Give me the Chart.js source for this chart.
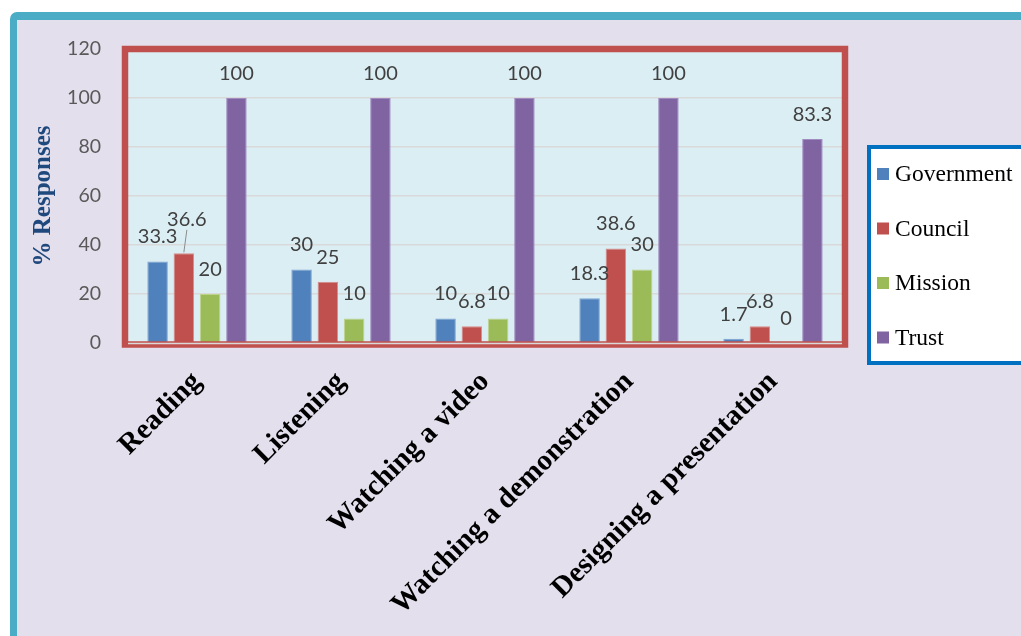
<!DOCTYPE html>
<html>
<head>
<meta charset="utf-8">
<script src="https://cdn.jsdelivr.net/npm/chart.js@4/dist/chart.umd.min.js"></script>
<style>
  html, body { margin: 0; padding: 0; background: #ffffff; }
  #wrap { width: 1021px; height: 636px; position: relative; }
</style>
</head>
<body>
<div id="wrap"><canvas id="c" width="1021" height="636"></canvas></div>
<script>
// ---- data ----
const categories = ["Reading", "Listening", "Watching a video", "Watching a demonstration", "Designing a presentation"];
const seriesNames = ["Government", "Council", "Mission", "Trust"];
const government = [33.3, 30, 10, 18.3, 1.7];
const council = [36.6, 25, 6.8, 38.6, 6.8];
const mission = [20, 10, 10, 30, 0];
const trust = [100, 100, 100, 100, 83.3];
const yTicks = [0, 20, 40, 60, 80, 100, 120];
const yTitle = "% Responses";

// ---- styles ----
const colors = ["#4F81BD", "#C0504D", "#9BBB59", "#8064A2"];
const edgeColors = ["#7FA3D3", "#D88A88", "#BDD48F", "#A08CC0"];
const seriesValues = [government, council, mission, trust];

// label nudges (display adjustments only)
const labelNudges = { "1-0": { dx: 3, dy: -9, leader: true } };

const frame = {
  id: 'frame',
  beforeDraw(chart) {
    const { ctx, chartArea: a } = chart;
    ctx.save();
    ctx.fillStyle = '#ffffff';
    ctx.fillRect(0, 0, chart.width, chart.height);
    // teal outer border
    ctx.fillStyle = '#4BACC6';
    ctx.beginPath();
    ctx.roundRect(10, 12, chart.width, chart.height, [7, 0, 0, 0]);
    ctx.fill();
    ctx.fillStyle = '#E4DFEC';
    ctx.fillRect(17, 20, chart.width, chart.height);
    // plot area fill
    ctx.fillStyle = '#DBEEF3';
    ctx.fillRect(a.left, a.top, a.right - a.left, a.bottom - a.top);
    ctx.restore();
  },
  afterDatasetsDraw(chart) {
    const { ctx, chartArea: a } = chart;
    ctx.save();
    // red plot border
    ctx.strokeStyle = '#C0504D';
    ctx.lineWidth = 6.5;
    ctx.strokeRect(a.left, a.top, a.right - a.left, (a.bottom + 1.5) - a.top);
    ctx.strokeStyle = '#D9D9D9';
    ctx.lineWidth = 1.5;
    ctx.beginPath();
    ctx.moveTo(a.left + 3, a.bottom + 0.5);
    ctx.lineTo(a.right - 3, a.bottom + 0.5);
    ctx.stroke();

    // data labels
    ctx.font = '20px Lato';
    ctx.fillStyle = '#404040';
    ctx.textAlign = 'center';
    ctx.textBaseline = 'middle';
    chart.data.datasets.forEach((ds, di) => {
      const meta = chart.getDatasetMeta(di);
      meta.data.forEach((el, i) => {
        const v = ds.data[i];
        const n = labelNudges[di + '-' + i] || { dx: 0, dy: 0 };
        const x = el.x + n.dx;
        const y = el.y - 24.5 + n.dy;
        ctx.fillText(String(v), x, y);
        if (n.leader) {
          ctx.strokeStyle = '#8c8c8c';
          ctx.lineWidth = 1;
          ctx.beginPath();
          ctx.moveTo(x, y + 10);
          ctx.lineTo(el.x, el.y - 1);
          ctx.stroke();
        }
      });
    });
    ctx.restore();
  },
  afterDraw(chart) {
    const { ctx } = chart;
    ctx.save();
    // legend box
    const bx = 867, by = 145, bw = 160, bh = 220;
    ctx.fillStyle = '#ffffff';
    ctx.fillRect(bx, by, bw, bh);
    ctx.strokeStyle = '#0070C0';
    ctx.lineWidth = 4;
    ctx.strokeRect(bx + 2, by + 2, bw, bh - 4);
    ctx.font = '23.5px "Liberation Serif"';
    ctx.textAlign = 'left';
    ctx.textBaseline = 'middle';
    chart.data.datasets.forEach((ds, i) => {
      const cy = 174 + i * 54.5;
      ctx.fillStyle = ds.backgroundColor;
      ctx.fillRect(877, cy - 6, 12, 12);
      ctx.fillStyle = '#000000';
      ctx.fillText(ds.label, 895, cy + 1);
    });
    ctx.restore();
  }
};

new Chart(document.getElementById('c'), {
  type: 'bar',
  data: {
    labels: categories,
    datasets: seriesNames.map((name, i) => ({
      label: name,
      data: seriesValues[i],
      backgroundColor: colors[i],
      borderColor: edgeColors[i],
      borderWidth: 1,
      categoryPercentage: 0.73,
      barPercentage: 0.78
    }))
  },
  options: {
    responsive: false,
    animation: false,
    events: [],
    layout: { padding: { left: 0, right: 176, top: 49, bottom: 0 } },
    plugins: { legend: { display: false }, tooltip: { enabled: false } },
    scales: {
      x: {
        grid: { display: false, drawTicks: false },
        border: { display: false },
        ticks: {
          autoSkip: false,
          minRotation: 45,
          maxRotation: 45,
          padding: 22,
          color: '#000000',
          font: { family: '"Liberation Serif"', weight: 'bold', size: 29 }
        },
        afterFit(scale) { scale.height = 636 - 343; }
      },
      y: {
        min: 0,
        max: 120,
        afterBuildTicks(scale) { scale.ticks = yTicks.map(v => ({ value: v })); },
        grid: { color: '#D9D9D9', lineWidth: 1.5, drawTicks: false },
        border: { display: false },
        ticks: {
          padding: 24,
          color: '#595959',
          font: { family: 'Lato', size: 19.5 }
        },
        title: {
          display: true,
          text: yTitle,
          color: '#1F497D',
          padding: { top: 29, bottom: 0 },
          font: { family: '"Liberation Serif"', weight: 'bold', size: 25 }
        },
        afterFit(scale) { scale.width = 125; }
      }
    }
  },
  plugins: [frame]
});
</script>
</body>
</html>
